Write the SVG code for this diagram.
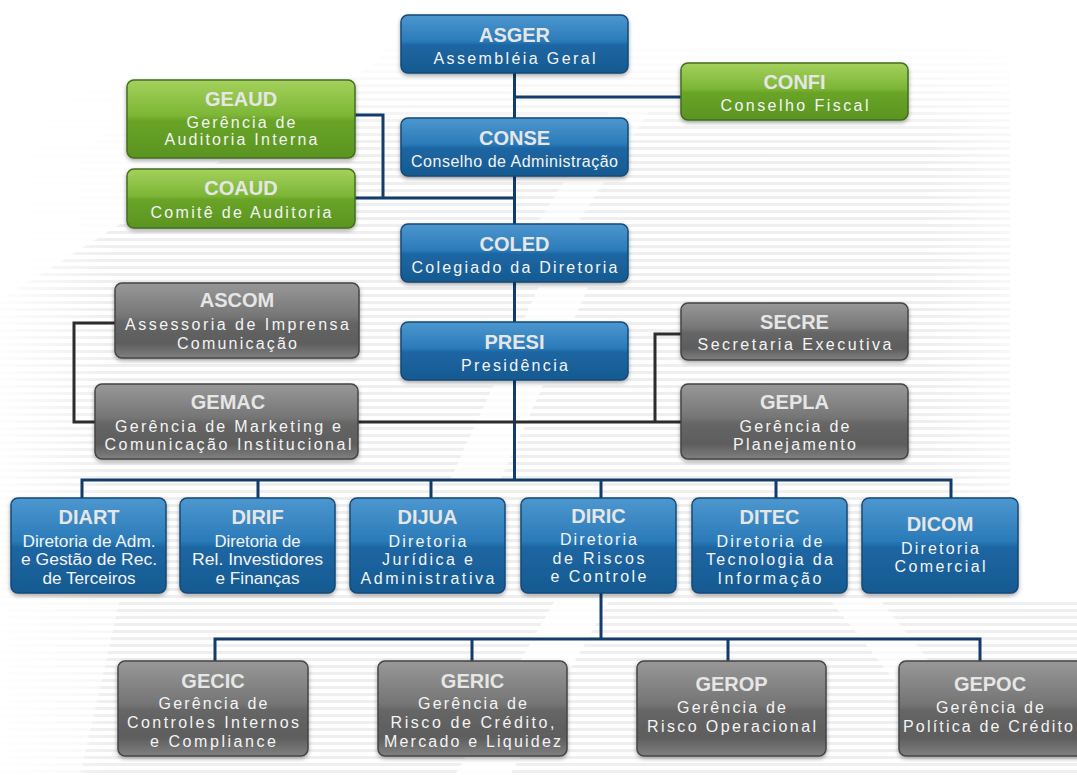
<svg xmlns="http://www.w3.org/2000/svg" width="1077" height="775" viewBox="0 0 1077 775">
<defs>
<style>
.t{font-family:"Liberation Sans",Arial,sans-serif;font-weight:bold;font-size:20px;fill:#e6e6e6;text-anchor:middle}
.s{font-family:"Liberation Sans",Arial,sans-serif;font-size:16px;fill:#f4f4f4;text-anchor:middle}
.cb{stroke:#123d6b;stroke-width:3;fill:none}
.cg{stroke:#2c2c2c;stroke-width:3;fill:none}
.nb{fill:url(#gb);stroke:#164a77;stroke-width:1.5;filter:url(#sh)}
.ng{fill:url(#gg);stroke:#456d1f;stroke-width:1.5;filter:url(#sh)}
.nk{fill:url(#gk);stroke:#454545;stroke-width:1.5;filter:url(#sh)}
</style>
<linearGradient id="gb" x1="0" y1="0" x2="0" y2="1">
<stop offset="0" stop-color="#4d97cf"/>
<stop offset="0.45" stop-color="#2b7bb9"/>
<stop offset="0.52" stop-color="#1b66a3"/>
<stop offset="1" stop-color="#185a91"/>
</linearGradient>
<linearGradient id="gg" x1="0" y1="0" x2="0" y2="1">
<stop offset="0" stop-color="#a4d15c"/>
<stop offset="0.45" stop-color="#7db637"/>
<stop offset="0.52" stop-color="#69a428"/>
<stop offset="1" stop-color="#5a9421"/>
</linearGradient>
<linearGradient id="gk" x1="0" y1="0" x2="0" y2="1">
<stop offset="0" stop-color="#989898"/>
<stop offset="0.45" stop-color="#757575"/>
<stop offset="0.52" stop-color="#666666"/>
<stop offset="0.8" stop-color="#5d5d5d"/>
<stop offset="1" stop-color="#808080"/>
</linearGradient>
<linearGradient id="fadeR" x1="0" y1="0" x2="1" y2="0">
<stop offset="0" stop-color="#fff" stop-opacity="0"/>
<stop offset="1" stop-color="#fff" stop-opacity="1"/>
</linearGradient>
<linearGradient id="fadeT" x1="0" y1="0" x2="0" y2="1">
<stop offset="0" stop-color="#fff" stop-opacity="1"/>
<stop offset="1" stop-color="#fff" stop-opacity="0"/>
</linearGradient>
<linearGradient id="fadeL" x1="0" y1="0" x2="1" y2="0">
<stop offset="0" stop-color="#fff" stop-opacity="0.9"/>
<stop offset="1" stop-color="#fff" stop-opacity="0"/>
</linearGradient>
<pattern id="stripes" width="8" height="7" patternUnits="userSpaceOnUse">
<rect width="8" height="7" fill="#ffffff"/>
<rect y="0" width="8" height="3" fill="#efefef"/>
</pattern>
<filter id="sh" x="-10%" y="-10%" width="120%" height="135%">
<feDropShadow dx="0" dy="2" stdDeviation="2" flood-color="#000" flood-opacity="0.35"/>
</filter>
</defs>

<g id="background">
<rect width="1077" height="775" fill="#ffffff"/>
<rect x="0" y="40" width="1077" height="735" fill="url(#stripes)"/>
<rect x="0" y="40" width="1077" height="120" fill="url(#fadeT)"/>
<rect x="0" y="0" width="110" height="775" fill="url(#fadeL)"/>
<rect x="930" y="0" width="147" height="600" fill="url(#fadeR)"/>
<rect x="1010" y="0" width="67" height="600" fill="#fff"/>
<polygon points="0,0 380,0 380,60 0,300" fill="#fff" opacity="0.85"/>
<polygon points="560,240 610,240 500,480 450,480" fill="#fff" opacity="0.8"/>
<polygon points="610,110 650,110 560,250 520,250" fill="#fff" opacity="0.6"/>
<polygon points="555,600 610,600 510,775 455,775" fill="#fff" opacity="0.85"/>
<polygon points="830,600 880,600 960,700 910,700" fill="#fff" opacity="0.75"/>
<polygon points="0,600 120,600 80,775 0,775" fill="#fff" opacity="0.6"/>
</g>

<g id="connectors">
<path class="cb" d="M514.5,73 V480"/>
<path class="cb" d="M514.5,97 H682"/>
<path class="cb" d="M355,115 H383 V198"/>
<path class="cb" d="M355,198 H514.5"/>
<path class="cg" d="M115,323 H74 V422 H681"/>
<path class="cg" d="M681,334 H655 V422"/>
<path class="cb" d="M82,498 V480 H951 V498"/>
<path class="cb" d="M258,480 V498 M431,480 V498 M601,480 V498 M776,480 V498"/>
<path class="cb" d="M601,593 V639"/>
<path class="cb" d="M215,661 V639 H980 V661"/>
<path class="cb" d="M472,639 V661 M728,639 V661"/>
</g>

<g id="ASGER"><rect class="nb" x="401" y="15" width="227" height="58" rx="7"/>
<text class="t" x="514.5" y="42">ASGER</text>
<text class="s" x="514.5" y="64" textLength="162" lengthAdjust="spacing">Assembléia Geral</text></g>

<g id="CONFI"><rect class="ng" x="681" y="63" width="227" height="57" rx="7"/>
<text class="t" x="794.5" y="89">CONFI</text>
<text class="s" x="794.5" y="111" textLength="148" lengthAdjust="spacing">Conselho Fiscal</text></g>

<g id="GEAUD"><rect class="ng" x="127" y="80" width="228" height="78" rx="7"/>
<text class="t" x="241" y="106">GEAUD</text>
<text class="s" x="241" y="128" textLength="109" lengthAdjust="spacing">Gerência de</text>
<text class="s" x="241" y="145" textLength="153" lengthAdjust="spacing">Auditoria Interna</text></g>

<g id="CONSE"><rect class="nb" x="401" y="118" width="227" height="58" rx="7"/>
<text class="t" x="514.5" y="145">CONSE</text>
<text class="s" x="514.5" y="167" textLength="207" lengthAdjust="spacing">Conselho de Administração</text></g>

<g id="COAUD"><rect class="ng" x="127" y="169" width="228" height="59" rx="7"/>
<text class="t" x="241" y="195">COAUD</text>
<text class="s" x="241" y="218" textLength="181" lengthAdjust="spacing">Comitê de Auditoria</text></g>

<g id="COLED"><rect class="nb" x="401" y="224" width="227" height="58" rx="7"/>
<text class="t" x="514.5" y="251">COLED</text>
<text class="s" x="514.5" y="273" textLength="206" lengthAdjust="spacing">Colegiado da Diretoria</text></g>

<g id="ASCOM"><rect class="nk" x="115" y="283" width="244" height="75" rx="7"/>
<text class="t" x="237" y="307">ASCOM</text>
<text class="s" x="237" y="330" textLength="224" lengthAdjust="spacing">Assessoria de Imprensa</text>
<text class="s" x="237" y="349" textLength="120" lengthAdjust="spacing">Comunicação</text></g>

<g id="PRESI"><rect class="nb" x="401" y="322" width="227" height="58" rx="7"/>
<text class="t" x="514.5" y="349">PRESI</text>
<text class="s" x="514.5" y="371" textLength="107" lengthAdjust="spacing">Presidência</text></g>

<g id="SECRE"><rect class="nk" x="681" y="303" width="227" height="57" rx="7"/>
<text class="t" x="794.5" y="329">SECRE</text>
<text class="s" x="794.5" y="350" textLength="194" lengthAdjust="spacing">Secretaria Executiva</text></g>

<g id="GEMAC"><rect class="nk" x="95" y="384" width="263" height="75" rx="7"/>
<text class="t" x="228" y="409">GEMAC</text>
<text class="s" x="228" y="432" textLength="226" lengthAdjust="spacing">Gerência de Marketing e</text>
<text class="s" x="228" y="450" textLength="247" lengthAdjust="spacing">Comunicação Institucional</text></g>

<g id="GEPLA"><rect class="nk" x="681" y="384" width="227" height="75" rx="7"/>
<text class="t" x="794.5" y="409">GEPLA</text>
<text class="s" x="794.5" y="432" textLength="110" lengthAdjust="spacing">Gerência de</text>
<text class="s" x="794.5" y="450" textLength="123" lengthAdjust="spacing">Planejamento</text></g>

<g id="DIART"><rect class="nb" x="11" y="498" width="155" height="95" rx="7"/>
<text class="t" x="89" y="524">DIART</text>
<text class="s" x="89" y="547" textLength="133" lengthAdjust="spacingAndGlyphs">Diretoria de Adm.</text>
<text class="s" x="89" y="565" textLength="136" lengthAdjust="spacingAndGlyphs">e Gestão de Rec.</text>
<text class="s" x="89" y="584" textLength="93" lengthAdjust="spacingAndGlyphs">de Terceiros</text></g>

<g id="DIRIF"><rect class="nb" x="180" y="498" width="155" height="95" rx="7"/>
<text class="t" x="257.5" y="524">DIRIF</text>
<text class="s" x="257.5" y="547" textLength="86" lengthAdjust="spacingAndGlyphs">Diretoria de</text>
<text class="s" x="257.5" y="565" textLength="131" lengthAdjust="spacingAndGlyphs">Rel. Investidores</text>
<text class="s" x="257.5" y="584" textLength="84" lengthAdjust="spacingAndGlyphs">e Finanças</text></g>

<g id="DIJUA"><rect class="nb" x="350" y="498" width="155" height="95" rx="7"/>
<text class="t" x="427.5" y="524">DIJUA</text>
<text class="s" x="427.5" y="547" textLength="78" lengthAdjust="spacing">Diretoria</text>
<text class="s" x="427.5" y="565" textLength="91" lengthAdjust="spacing">Jurídica e</text>
<text class="s" x="427.5" y="584" textLength="134" lengthAdjust="spacing">Administrativa</text></g>

<g id="DIRIC"><rect class="nb" x="521" y="498" width="155" height="95" rx="7"/>
<text class="t" x="598.5" y="523">DIRIC</text>
<text class="s" x="598.5" y="545" textLength="77" lengthAdjust="spacing">Diretoria</text>
<text class="s" x="598.5" y="564" textLength="92" lengthAdjust="spacing">de Riscos</text>
<text class="s" x="598.5" y="582" textLength="96" lengthAdjust="spacing">e Controle</text></g>

<g id="DITEC"><rect class="nb" x="692" y="498" width="155" height="95" rx="7"/>
<text class="t" x="769.5" y="524">DITEC</text>
<text class="s" x="769.5" y="547" textLength="106" lengthAdjust="spacing">Diretoria de</text>
<text class="s" x="769.5" y="565" textLength="127" lengthAdjust="spacing">Tecnologia da</text>
<text class="s" x="769.5" y="584" textLength="104" lengthAdjust="spacing">Informação</text></g>

<g id="DICOM"><rect class="nb" x="862" y="498" width="156" height="95" rx="7"/>
<text class="t" x="940" y="531">DICOM</text>
<text class="s" x="940" y="554" textLength="78" lengthAdjust="spacing">Diretoria</text>
<text class="s" x="940" y="572" textLength="91" lengthAdjust="spacing">Comercial</text></g>

<g id="GECIC"><rect class="nk" x="118" y="661" width="190" height="95" rx="7"/>
<text class="t" x="213" y="688">GECIC</text>
<text class="s" x="213" y="709" textLength="109" lengthAdjust="spacing">Gerência de</text>
<text class="s" x="213" y="728" textLength="172" lengthAdjust="spacing">Controles Internos</text>
<text class="s" x="213" y="747" textLength="126" lengthAdjust="spacing">e Compliance</text></g>

<g id="GERIC"><rect class="nk" x="378" y="661" width="189" height="95" rx="7"/>
<text class="t" x="472.5" y="688">GERIC</text>
<text class="s" x="472.5" y="709" textLength="109" lengthAdjust="spacing">Gerência de</text>
<text class="s" x="472.5" y="728" textLength="164" lengthAdjust="spacing">Risco de Crédito,</text>
<text class="s" x="472.5" y="747" textLength="177" lengthAdjust="spacing">Mercado e Liquidez</text></g>

<g id="GEROP"><rect class="nk" x="637" y="661" width="189" height="95" rx="7"/>
<text class="t" x="731.5" y="691">GEROP</text>
<text class="s" x="731.5" y="713" textLength="109" lengthAdjust="spacing">Gerência de</text>
<text class="s" x="731.5" y="732" textLength="169" lengthAdjust="spacing">Risco Operacional</text></g>

<g id="GEPOC"><rect class="nk" x="899" y="661" width="190" height="95" rx="7"/>
<text class="t" x="990" y="691">GEPOC</text>
<text class="s" x="990" y="713" textLength="108" lengthAdjust="spacing">Gerência de</text>
<text class="s" x="988" y="732" textLength="170" lengthAdjust="spacing">Política de Crédito</text></g>
</svg>
